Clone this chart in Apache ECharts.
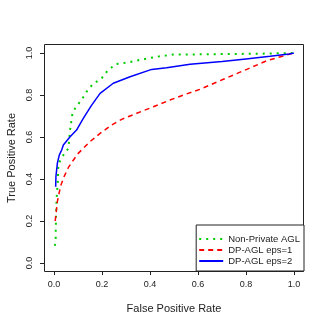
<!DOCTYPE html>
<html>
<head>
<meta charset="utf-8">
<script src="https://cdn.jsdelivr.net/npm/echarts@6/dist/echarts.min.js"></script>
<style>
  html, body { margin: 0; padding: 0; background: #fff; }
  #roc { width: 327px; height: 327px; }
</style>
</head>
<body>
<div id="roc"></div>
<script>
// ROC curves
var fprNonPrivate = [0.004, 0.007, 0.007, 0.008, 0.008, 0.01, 0.011, 0.013, 0.015, 0.017, 0.017, 0.018, 0.042, 0.06, 0.067, 0.076, 0.088, 0.119, 0.136, 0.161, 0.199, 0.213, 0.233, 0.254, 0.303, 0.358, 0.428, 0.497, 0.567, 0.7, 0.8, 0.87, 0.95, 1.0];
var tprNonPrivate = [0.082, 0.118, 0.149, 0.181, 0.213, 0.276, 0.311, 0.343, 0.375, 0.406, 0.44, 0.471, 0.519, 0.546, 0.633, 0.705, 0.737, 0.784, 0.816, 0.851, 0.88, 0.903, 0.924, 0.946, 0.954, 0.967, 0.982, 0.993, 0.993, 0.995, 0.996, 0.997, 0.999, 1.0];

var fprEps1 = [0.005, 0.007, 0.01, 0.014, 0.021, 0.029, 0.042, 0.06, 0.078, 0.101, 0.15, 0.192, 0.24, 0.282, 0.345, 0.414, 0.483, 0.539, 0.608, 0.706, 0.803, 0.886, 0.983, 1.0];
var tprEps1 = [0.2, 0.222, 0.25, 0.292, 0.332, 0.371, 0.411, 0.455, 0.486, 0.522, 0.578, 0.617, 0.657, 0.684, 0.713, 0.744, 0.776, 0.8, 0.827, 0.875, 0.922, 0.963, 0.995, 1.0];

var fprEps2 = [0.007, 0.008, 0.014, 0.022, 0.032, 0.039, 0.067, 0.094, 0.122, 0.157, 0.192, 0.247, 0.317, 0.407, 0.469, 0.567, 0.7, 0.8, 0.9, 0.98, 1.0];
var tprEps2 = [0.363, 0.411, 0.475, 0.514, 0.538, 0.562, 0.601, 0.633, 0.689, 0.752, 0.808, 0.856, 0.887, 0.922, 0.93, 0.946, 0.96, 0.972, 0.984, 0.995, 1.0];

var seriesNames = ['Non-Private AGL', 'DP-AGL eps=1', 'DP-AGL eps=2'];

function pairs(xs, ys) {
    var res = [];
    for (var i = 0; i < xs.length; i++) {
        res.push([xs[i], ys[i]]);
    }
    return res;
}

var myChart = echarts.init(document.getElementById('roc'));
var font = 'Liberation Sans, Arial, sans-serif';

var option = {
    animation: false,
    grid: { left: 54, right: 33, top: 53, bottom: 64, outerBoundsMode: 'none', containLabel: false },
    xAxis: {
        type: 'value',
        min: 0, max: 1, interval: 0.2,
        offset: 8,
        name: 'False Positive Rate',
        nameLocation: 'middle',
        nameGap: 32,
        nameTextStyle: { color: '#222', fontSize: 11, fontFamily: font },
        axisLine: { show: true, onZero: false, lineStyle: { color: '#222', width: 1 } },
        axisTick: { show: true, length: 4, lineStyle: { color: '#222' } },
        axisLabel: {
            color: '#222', fontSize: 9, fontFamily: font, margin: 9,
            formatter: function (v) { return v.toFixed(1); }
        },
        splitLine: { show: false }
    },
    yAxis: {
        type: 'value',
        min: 0, max: 1, interval: 0.2,
        offset: 10,
        name: 'True Positive Rate',
        nameLocation: 'middle',
        nameGap: 27,
        nameTextStyle: { color: '#222', fontSize: 11, fontFamily: font },
        axisLine: { show: true, onZero: false, lineStyle: { color: '#222', width: 1 } },
        axisTick: { show: true, length: 4, lineStyle: { color: '#222' } },
        axisLabel: {
            color: '#222', fontSize: 9, fontFamily: font, margin: 10, rotate: 90,
            formatter: function (v) { return v.toFixed(1); }
        },
        splitLine: { show: false }
    },
    legend: {
        orient: 'vertical',
        right: 23,
        bottom: 56,
        data: seriesNames,
        itemWidth: 24,
        itemHeight: 10,
        itemGap: 1,
        padding: [9, 4, 5, 2],
        borderColor: '#222',
        borderWidth: 1,
        borderRadius: 0,
        backgroundColor: '#fff',
        itemStyle: { color: 'rgba(0,0,0,0)', borderWidth: 0 },
        textStyle: { color: '#222', fontSize: 9.5, fontFamily: font }
    },
    graphic: [{
        type: 'rect',
        shape: { x: 44.5, y: 44.5, width: 259, height: 227 },
        style: { fill: null, stroke: '#222', lineWidth: 1 },
        silent: true
    }],
    series: [
        {
            name: seriesNames[0],
            type: 'line',
            data: pairs(fprNonPrivate, tprNonPrivate),
            showSymbol: false,
            symbol: 'none',
            lineStyle: { color: '#00CD00', width: 2, type: [2, 5] },
            itemStyle: { color: '#00CD00' }
        },
        {
            name: seriesNames[1],
            type: 'line',
            data: pairs(fprEps1, tprEps1),
            showSymbol: false,
            symbol: 'none',
            lineStyle: { color: '#FF0000', width: 1.5, type: [5, 4] },
            itemStyle: { color: '#FF0000' }
        },
        {
            name: seriesNames[2],
            type: 'line',
            data: pairs(fprEps2, tprEps2),
            showSymbol: false,
            symbol: 'none',
            lineStyle: { color: '#0000FF', width: 1.5 },
            itemStyle: { color: '#0000FF' }
        }
    ]
};

myChart.setOption(option);
window.addEventListener('resize', function () {
    myChart.resize();
});
</script>
</body>
</html>
